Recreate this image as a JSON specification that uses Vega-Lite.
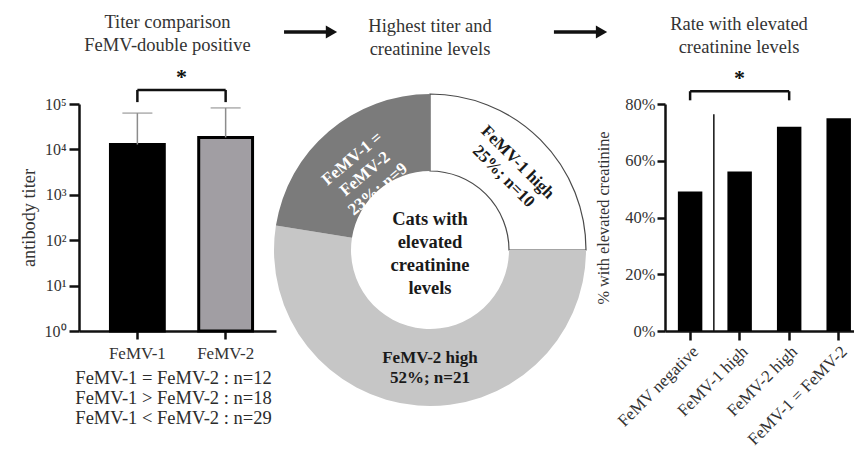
{
  "$schema": "https://vega.github.io/schema/vega-lite/v6.json",
  "background": "white",
  "padding": {"left": 19, "top": 13, "right": 0, "bottom": 0},
  "config": {
    "view": {"stroke": null},
    "font": "Liberation Serif",
    "axis": {"grid": false, "domainColor": "#111", "tickColor": "#111", "domainWidth": 2.5, "tickWidth": 2.5, "labelColor": "#333", "titleColor": "#333", "labelFont": "Liberation Serif", "titleFont": "Liberation Serif", "titleFontWeight": "normal"},
    "title": {"font": "Liberation Serif", "fontSize": 18.5, "fontWeight": "normal", "color": "#333", "lineHeight": 23}
  },
  "datasets": {
    "titers": [
      {"virus": "FeMV-1", "titer": 12800, "upper": 63000},
      {"virus": "FeMV-2", "titer": 18300, "upper": 82000}
    ],
    "titerSig": [{"from": "FeMV-1", "to": "FeMV-2", "top": 204000, "bottom": 110000, "star": 394000, "label": "*"}],
    "slices": [
      {"group": "FeMV-1 high", "n": 10, "rank": 1, "label": "FeMV-1 high\n25%; n=10"},
      {"group": "FeMV-2 high", "n": 21, "rank": 2, "label": "FeMV-2 high\n52%; n=21"},
      {"group": "FeMV-1 = FeMV-2", "n": 9, "rank": 3, "label": "FeMV-1 =\nFeMV-2\n23%; n=9"}
    ],
    "center": [{"caption": "Cats with\nelevated\ncreatinine\nlevels"}],
    "arrows": [
      {"start": -0.954, "tip": -0.644, "level": 1.493},
      {"start": 0.81, "tip": 1.121, "level": 1.493}
    ],
    "rates": [
      {"group": "FeMV negative", "rate": 0.492},
      {"group": "FeMV-1 high", "rate": 0.562},
      {"group": "FeMV-2 high", "rate": 0.72},
      {"group": "FeMV-1 = FeMV-2", "rate": 0.75}
    ],
    "rateSig": [{"from": "FeMV negative", "to": "FeMV-2 high", "top": 0.845, "bottom": 0.813, "star": 0.89, "label": "*"}],
    "separator": [{"after": "FeMV negative", "top": 0.764}]
  },
  "bounds": "flush",
  "spacing": 1,
  "resolve": {"scale": {"fill": "independent", "color": "independent", "stroke": "independent"}},
  "hconcat": [
    {
      "width": 197,
      "height": 227,
      "title": {"text": ["Titer comparison", "FeMV-double positive"], "offset": 11, "dx": -10},
      "layer": [
        {
          "data": {"name": "titers"},
          "mark": {"type": "bar", "stroke": "#000", "strokeWidth": 3},
          "encoding": {
            "x": {"field": "virus", "type": "nominal",
              "scale": {"domain": ["FeMV-1", "FeMV-2"], "paddingInner": 0.39, "paddingOuter": 0.311, "align": 0.573},
              "axis": {"labelAngle": 0, "labelFontSize": 17, "labelPadding": 6, "tickSize": 8,
                "title": ["FeMV-1 = FeMV-2 : n=12", "FeMV-1 > FeMV-2 : n=18", "FeMV-1 < FeMV-2 : n=29"],
                "titleFontSize": 18.5, "titleLineHeight": 20, "titlePadding": 7, "titleX": 94, "titleColor": "#2b2b2b"}},
            "y": {"field": "titer", "type": "quantitative",
              "scale": {"type": "log", "domain": [1, 100000]},
              "axis": {"values": [1, 10, 100, 1000, 10000, 100000],
                "labelExpr": "'10' + ['⁰','¹','²','³','⁴','⁵'][round(log(datum.value)/LN10)]",
                "title": "antibody titer", "titleFontSize": 18.3, "labelFontSize": 16, "tickSize": 10, "labelPadding": 3, "titlePadding": 6}},
            "y2": {"datum": 1},
            "fill": {"field": "virus", "type": "nominal", "scale": {"domain": ["FeMV-1", "FeMV-2"], "range": ["#000000", "#a19ea3"]}, "legend": null}
          }
        },
        {
          "data": {"name": "titers"},
          "mark": {"type": "rule", "color": "#8c8c8c", "strokeWidth": 1.5},
          "encoding": {
            "x": {"field": "virus", "type": "nominal"},
            "y": {"field": "titer", "type": "quantitative"},
            "y2": {"field": "upper"}
          }
        },
        {
          "data": {"name": "titers"},
          "mark": {"type": "tick", "color": "#8c8c8c", "thickness": 1.5, "size": 30},
          "encoding": {
            "x": {"field": "virus", "type": "nominal"},
            "y": {"field": "upper", "type": "quantitative"}
          }
        },
        {
          "data": {"name": "titerSig"},
          "mark": {"type": "rule", "color": "#111", "strokeWidth": 2.5},
          "encoding": {
            "x": {"field": "from", "type": "nominal"},
            "x2": {"field": "to"},
            "y": {"field": "top", "type": "quantitative"}
          }
        },
        {
          "data": {"name": "titerSig"},
          "mark": {"type": "rule", "color": "#111", "strokeWidth": 2.5},
          "encoding": {
            "x": {"field": "from", "type": "nominal"},
            "y": {"field": "top", "type": "quantitative"},
            "y2": {"field": "bottom"}
          }
        },
        {
          "data": {"name": "titerSig"},
          "mark": {"type": "rule", "color": "#111", "strokeWidth": 2.5},
          "encoding": {
            "x": {"field": "to", "type": "nominal"},
            "y": {"field": "top", "type": "quantitative"},
            "y2": {"field": "bottom"}
          }
        },
        {
          "data": {"name": "titerSig"},
          "mark": {"type": "text", "fontSize": 22, "fontWeight": "bold", "color": "#111", "baseline": "middle", "align": "center"},
          "encoding": {
            "x": {"field": "from", "type": "nominal", "bandPosition": 1.32},
            "y": {"field": "star", "type": "quantitative"},
            "text": {"field": "label"}
          }
        }
      ]
    },
    {
      "bounds": "flush",
      "spacing": 82,
      "resolve": {"scale": {"fill": "independent", "color": "independent", "stroke": "independent"}},
      "hconcat": [
        {
          "width": 306,
          "height": 292,
          "title": {"text": ["Highest titer and", "creatinine levels"], "offset": -33},
          "layer": [
            {
              "data": {"name": "slices"},
              "mark": {"type": "arc", "outerRadius": 156, "innerRadius": 79, "strokeWidth": 1.2},
              "encoding": {
                "theta": {"field": "n", "type": "quantitative", "stack": true},
                "order": {"field": "rank", "type": "quantitative"},
                "fill": {"field": "group", "type": "nominal", "scale": {"domain": ["FeMV-1 high", "FeMV-2 high", "FeMV-1 = FeMV-2"], "range": ["#ffffff", "#c6c6c6", "#7b7b7b"]}, "legend": null},
                "stroke": {"condition": {"test": "datum.group === 'FeMV-1 high'", "value": "#4a4a4a"}, "value": "transparent"}
              }
            },
            {
              "data": {"name": "slices"},
              "mark": {"type": "text", "radius": 114, "angle": 45, "dy": -10, "fontWeight": "bold", "fontSize": 17, "lineHeight": 20, "lineBreak": "\n", "color": "#1a1a1a", "baseline": "middle", "align": "center"},
              "encoding": {
                "theta": {"field": "n", "type": "quantitative", "stack": true},
                "order": {"field": "rank", "type": "quantitative"},
                "detail": {"field": "group", "type": "nominal"},
                "text": {"condition": {"test": "datum.group === 'FeMV-1 high'", "field": "label", "type": "nominal"}, "value": ""}
              }
            },
            {
              "data": {"name": "slices"},
              "mark": {"type": "text", "radius": 115, "angle": 0, "dx": 9, "dy": -7, "fontWeight": "bold", "fontSize": 17, "lineHeight": 20, "lineBreak": "\n", "color": "#1a1a1a", "baseline": "middle", "align": "center"},
              "encoding": {
                "theta": {"field": "n", "type": "quantitative", "stack": true},
                "order": {"field": "rank", "type": "quantitative"},
                "detail": {"field": "group", "type": "nominal"},
                "text": {"condition": {"test": "datum.group === 'FeMV-2 high'", "field": "label", "type": "nominal"}, "value": ""}
              }
            },
            {
              "data": {"name": "slices"},
              "mark": {"type": "text", "radius": 100, "angle": -40, "dy": -20, "fontWeight": "bold", "fontSize": 17, "lineHeight": 20, "lineBreak": "\n", "color": "#ffffff", "baseline": "middle", "align": "center"},
              "encoding": {
                "theta": {"field": "n", "type": "quantitative", "stack": true},
                "order": {"field": "rank", "type": "quantitative"},
                "detail": {"field": "group", "type": "nominal"},
                "text": {"condition": {"test": "datum.group === 'FeMV-1 = FeMV-2'", "field": "label", "type": "nominal"}, "value": ""}
              }
            },
            {
              "data": {"name": "center"},
              "mark": {"type": "text", "dy": -31, "fontWeight": "bold", "fontSize": 18.5, "lineHeight": 23, "lineBreak": "\n", "color": "#1a1a1a", "baseline": "middle", "align": "center"},
              "encoding": {
                "text": {"field": "caption"}
              }
            },
            {
              "data": {"name": "arrows"},
              "mark": {"type": "rule", "color": "#111", "strokeWidth": 3.5},
              "encoding": {
                "x": {"field": "start", "type": "quantitative", "scale": {"domain": [-1, 1], "nice": false, "zero": false}, "axis": null},
                "x2": {"field": "tip"},
                "y": {"field": "level", "type": "quantitative", "scale": {"domain": [-1, 1], "nice": false, "zero": false}, "axis": null}
              }
            },
            {
              "data": {"name": "arrows"},
              "mark": {"type": "point", "shape": "triangle-right", "filled": true, "size": 170, "color": "#111", "opacity": 1},
              "encoding": {
                "x": {"field": "tip", "type": "quantitative"},
                "y": {"field": "level", "type": "quantitative"}
              }
            }
          ]
        },
        {
          "width": 190,
          "height": 227,
          "title": {"text": ["Rate with elevated", "creatinine levels"], "offset": 11, "dx": -21},
          "layer": [
            {
              "data": {"name": "rates"},
              "mark": {"type": "bar", "color": "#000"},
              "encoding": {
                "x": {"field": "group", "type": "nominal",
                  "scale": {"domain": ["FeMV negative", "FeMV-1 high", "FeMV-2 high", "FeMV-1 = FeMV-2"], "paddingInner": 0.506, "paddingOuter": 0.171, "align": 0.76},
                  "axis": {"labelAngle": -45, "labelFontSize": 17, "tickSize": 9, "title": null, "labelPadding": 3}},
                "y": {"field": "rate", "type": "quantitative",
                  "scale": {"domain": [0, 0.8]},
                  "axis": {"values": [0, 0.2, 0.4, 0.6, 0.8], "format": ".0%", "title": "% with elevated creatinine", "titleFontSize": 16.3, "labelFontSize": 16.5, "tickSize": 8, "labelPadding": 2, "titlePadding": 13}}
              }
            },
            {
              "data": {"name": "separator"},
              "mark": {"type": "rule", "color": "#111", "strokeWidth": 1.5},
              "encoding": {
                "x": {"field": "after", "type": "nominal", "bandPosition": 1.47},
                "y": {"field": "top", "type": "quantitative"},
                "y2": {"datum": 0}
              }
            },
            {
              "data": {"name": "rateSig"},
              "mark": {"type": "rule", "color": "#111", "strokeWidth": 2.5},
              "encoding": {
                "x": {"field": "from", "type": "nominal"},
                "x2": {"field": "to"},
                "y": {"field": "top", "type": "quantitative"}
              }
            },
            {
              "data": {"name": "rateSig"},
              "mark": {"type": "rule", "color": "#111", "strokeWidth": 2.5},
              "encoding": {
                "x": {"field": "from", "type": "nominal"},
                "y": {"field": "top", "type": "quantitative"},
                "y2": {"field": "bottom"}
              }
            },
            {
              "data": {"name": "rateSig"},
              "mark": {"type": "rule", "color": "#111", "strokeWidth": 2.5},
              "encoding": {
                "x": {"field": "to", "type": "nominal"},
                "y": {"field": "top", "type": "quantitative"},
                "y2": {"field": "bottom"}
              }
            },
            {
              "data": {"name": "rateSig"},
              "mark": {"type": "text", "fontSize": 22, "fontWeight": "bold", "color": "#111", "baseline": "middle", "align": "center"},
              "encoding": {
                "x": {"field": "from", "type": "nominal", "bandPosition": 2.52},
                "y": {"field": "star", "type": "quantitative"},
                "text": {"field": "label"}
              }
            }
          ]
        }
      ]
    }
  ]
}
